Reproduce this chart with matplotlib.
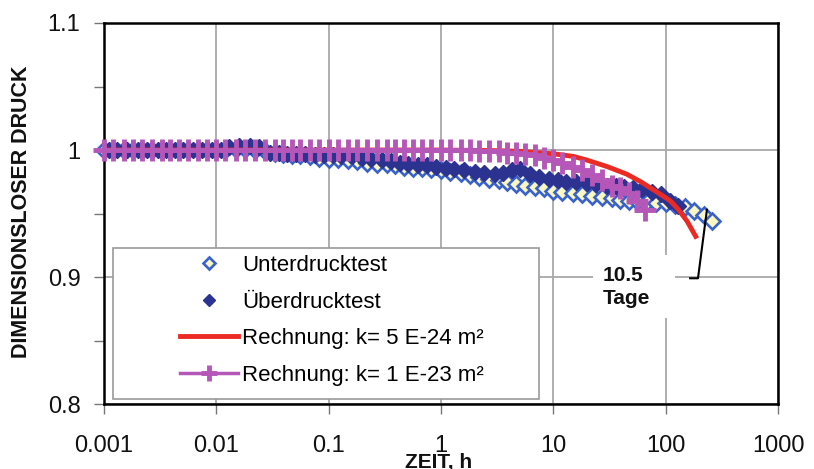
import matplotlib
matplotlib.use('Agg')
import matplotlib.pyplot as plt
from matplotlib.ticker import FixedLocator, FuncFormatter
from matplotlib.patches import Rectangle

plt.rcParams['font.family'] = ['Liberation Sans', 'DejaVu Sans']

# ---------------- data ----------------
T_UNTER = [0.001, 0.0012, 0.0015, 0.0018, 0.0022, 0.0027, 0.0033, 0.0039, 0.0047, 0.0056, 0.0068, 0.0082,
           0.01, 0.012, 0.015, 0.018, 0.022, 0.027, 0.033, 0.039, 0.047, 0.056, 0.068, 0.082,
           0.1, 0.12, 0.15, 0.18, 0.22, 0.27, 0.33, 0.39, 0.47, 0.56, 0.68, 0.82,
           1, 1.2, 1.5, 1.8, 2.2, 2.7, 3.3, 3.9, 4.7, 5.6, 6.8, 8.2,
           10, 12, 15, 18, 22, 27, 33, 39, 47, 56, 68, 82,
           100, 120, 150, 180, 220, 260]
P_UNTER = [1.000, 1.000, 1.000, 1.000, 1.000, 1.000, 1.000, 1.000, 1.000, 1.000, 1.000, 1.000,
           1.000, 1.000, 1.001, 1.001, 1.000, 0.999, 0.998, 0.997, 0.996, 0.996, 0.995, 0.994,
           0.993, 0.993, 0.992, 0.991, 0.990, 0.989, 0.989, 0.988, 0.987, 0.986, 0.986, 0.985,
           0.984, 0.983, 0.982, 0.980, 0.979, 0.977, 0.976, 0.975, 0.973, 0.972, 0.971, 0.970,
           0.968, 0.967, 0.966, 0.965, 0.964, 0.963, 0.962, 0.961, 0.960, 0.960, 0.959, 0.958,
           0.958, 0.957, 0.955, 0.952, 0.949, 0.944]

T_UEBER = [0.0011, 0.0013, 0.0016, 0.002, 0.0024, 0.003, 0.0036, 0.0043, 0.0051, 0.0062, 0.0075, 0.0091,
           0.011, 0.013, 0.016, 0.02, 0.024, 0.03, 0.036, 0.043, 0.051, 0.062, 0.075, 0.091,
           0.11, 0.13, 0.16, 0.2, 0.24, 0.3, 0.36, 0.43, 0.51, 0.62, 0.75, 0.91,
           1.1, 1.3, 1.6, 2.0, 2.4, 3.0, 3.6, 4.3, 5.1, 6.2, 7.5, 9.1,
           11, 13, 16, 20, 24, 30, 36, 43, 51, 62, 75, 91,
           110, 130]
P_UEBER = [1.000, 1.000, 1.000, 1.000, 1.000, 1.000, 1.000, 1.000, 1.000, 1.000, 1.000, 1.000,
           1.000, 1.002, 1.003, 1.003, 1.002, 0.998, 0.998, 0.997, 0.997, 0.997, 0.996, 0.996,
           0.996, 0.995, 0.995, 0.994, 0.993, 0.992, 0.991, 0.990, 0.989, 0.988, 0.988, 0.987,
           0.986, 0.985, 0.984, 0.983, 0.982, 0.981, 0.982, 0.984, 0.985, 0.981, 0.979, 0.977,
           0.976, 0.975, 0.975, 0.974, 0.973, 0.972, 0.972, 0.971, 0.970, 0.969, 0.967, 0.965,
           0.960, 0.956]

T_K24 = [0.001, 1, 3, 5, 10, 15, 20, 30, 45, 60, 80, 110, 130, 155, 185]
P_K24 = [1.000, 1.000, 0.9995, 0.999, 0.997, 0.995, 0.992, 0.987, 0.981, 0.975, 0.968, 0.960, 0.953, 0.944, 0.932]

T_K23 = [0.001, 0.0012, 0.0015, 0.0018, 0.0022, 0.0027, 0.0033, 0.0039, 0.0047, 0.0056, 0.0068, 0.0082,
         0.01, 0.012, 0.015, 0.018, 0.022, 0.027, 0.033, 0.039, 0.047, 0.056, 0.068, 0.082,
         0.1, 0.12, 0.15, 0.18, 0.22, 0.27, 0.33, 0.39, 0.47, 0.56, 0.68, 0.82,
         1, 1.2, 1.5, 1.8, 2.2, 2.7, 3.3, 3.9, 4.7, 5.6, 6.8, 8.2,
         10, 12, 15, 18, 22, 27, 33, 39, 47, 56, 65]
P_K23 = [1.000, 1.000, 1.000, 1.000, 1.000, 1.000, 1.000, 1.000, 1.000, 1.000, 1.000, 1.000,
         1.000, 1.000, 1.000, 1.000, 1.000, 1.000, 1.000, 1.000, 1.000, 1.000, 1.000, 1.000,
         1.000, 1.000, 1.000, 1.000, 1.000, 1.000, 1.000, 1.000, 1.000, 1.000, 1.000, 1.000,
         1.000, 1.000, 1.000, 1.000, 0.9995, 0.999, 0.999, 0.998, 0.998, 0.997, 0.996, 0.994,
         0.992, 0.990, 0.987, 0.984, 0.980, 0.976, 0.972, 0.970, 0.966, 0.960, 0.953]

LABELS = ['Unterdrucktest', 'Überdrucktest', 'Rechnung: k= 5 E-24 m²', 'Rechnung: k= 1 E-23 m²']
X_TICKS = [0.001, 0.01, 0.1, 1, 10, 100, 1000]
Y_TICKS = [0.8, 0.9, 1.0, 1.1]
Y_MINOR = [0.85, 0.95, 1.05]
ANNOT_TEXT = '10.5\nTage'

# ---------------- style ----------------
UNTER_EDGE = '#3a62c9'
UNTER_FACE = '#fbf7c2'
UEBER_COL = '#2b328f'
RED = '#ec2a24'
MAG = '#b557b8'
W, H = 814, 469

fig = plt.figure(figsize=(W / 100, H / 100), dpi=100)
ax = fig.add_axes([104 / W, 1 - 404 / H, 674 / W, 381 / H])
ax.set_xscale('log')
ax.set_xlim(0.001, 1000)
ax.set_ylim(0.8, 1.1)

ax.plot(T_UNTER, P_UNTER, ls='none', marker='D', ms=8.5, mfc=UNTER_FACE, mec=UNTER_EDGE, mew=1.9,
        zorder=3, clip_on=False, label=LABELS[0])
ax.plot(T_UEBER, P_UEBER, ls='none', marker='D', ms=8.5, mfc=UEBER_COL, mec=UEBER_COL, mew=1,
        zorder=3.1, clip_on=False, label=LABELS[1])
ax.plot(T_K24, P_K24, color=RED, lw=3.5, zorder=3.2, label=LABELS[2])
ax.plot(T_K23, P_K23, color=MAG, lw=2.5, marker='+', ms=16, mew=3.5, zorder=3.3, clip_on=False,
        label=LABELS[3])

ax.xaxis.set_major_locator(FixedLocator(X_TICKS))
ax.xaxis.set_minor_locator(FixedLocator([]))
ax.xaxis.set_major_formatter(FuncFormatter(lambda v, p: '%g' % v))
ax.yaxis.set_major_locator(FixedLocator(Y_TICKS))
ax.yaxis.set_minor_locator(FixedLocator(Y_MINOR))
ax.yaxis.set_major_formatter(FuncFormatter(lambda v, p: '%g' % v))

ax.grid(True, which='major', color='#a8a8a8', lw=1.3, zorder=0)
ax.set_axisbelow(True)
for s in ax.spines.values():
    s.set_linewidth(1.8)
    s.set_color('black')
ax.tick_params(axis='both', which='both', direction='out', length=7, width=1, color='#777777',
               labelsize=17, labelcolor='#111111')
ax.tick_params(axis='y', which='both', pad=10)
ax.tick_params(axis='x', which='both', pad=15)
ax.tick_params(top=False, right=False)

fig.text(22 / W, 1 - 212 / H, 'DIMENSIONSLOSER DRUCK', rotation=90, ha='center', va='center',
         fontsize=15.5, fontweight='bold', color='#111111')
fig.text(439 / W, 1 - 453 / H, 'ZEIT, h', ha='center', va='top', fontsize=15,
         fontweight='bold', color='#111111')

# legend box
rect = Rectangle((113 / W, 1 - 399 / H), 426 / W, 151 / H, transform=fig.transFigure,
                 facecolor='white', edgecolor='#9a9a9a', lw=1.2, zorder=5, clip_on=False)
ax.add_artist(rect)
h, l = ax.get_legend_handles_labels()
leg = ax.legend(h, l, loc='upper left', bbox_to_anchor=(180 / W, 1 - 255 / H),
                bbox_transform=fig.transFigure, frameon=False, fontsize=16, handlelength=2.6,
                handletextpad=0.2, labelspacing=0.7, borderpad=0, borderaxespad=0, numpoints=1,
                markerscale=0.75)
leg.set_zorder(6)

# annotation
ax.plot([165, 194, 233], [0.899, 0.899, 0.953], color='black', lw=1.5, zorder=4, clip_on=False)
box = Rectangle((593 / W, 1 - 318 / H), 82 / W, 63 / H, transform=fig.transFigure,
                facecolor='white', edgecolor='none', zorder=4.5, clip_on=False)
ax.add_artist(box)
ax.text(603 / W, 1 - 287 / H, ANNOT_TEXT, transform=fig.transFigure, ha='left', va='center',
        fontsize=15, fontweight='bold', linespacing=1.3, color='#111111', zorder=6)

fig.savefig('out.png', dpi=100)
